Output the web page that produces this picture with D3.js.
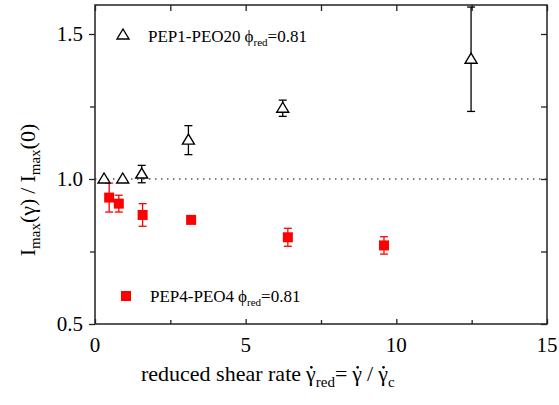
<!DOCTYPE html>
<html>
<head>
<meta charset="utf-8">
<script src="https://cdn.jsdelivr.net/npm/d3@7"></script>
</head>
<body style="margin:0; font-family: 'Times New Roman';">
<div id="chart"></div>
<script>
// PEP1-PEO20 (open triangles)
const triX   = [0.30, 0.92, 1.55, 3.10, 6.23, 12.48];
const triY   = [1.000, 1.000, 1.017, 1.134, 1.244, 1.413];
const triErr = [0, 0, 0.030, 0.050, 0.028, 0.180];

// PEP4-PEO4 (red squares)
const sqX   = [0.47, 0.79, 1.58, 3.19, 6.40, 9.59];
const sqY   = [0.936, 0.915, 0.876, 0.859, 0.799, 0.771];
const sqErr = [0.050, 0.029, 0.039, 0.008, 0.031, 0.030];

const xMajor = [0, 5, 10, 15];
const xMinor = [2.5, 7.5, 12.5];
const yMajor = [0.5, 1.0, 1.5];
const yMinor = [0.75, 1.25];

const width = 559, height = 405;
const margin = { left: 95, right: 12, top: 5, bottom: 81 };
const serif = 'Times New Roman';

const svg = d3.select('#chart').append('svg')
	.attr('width', width)
	.attr('height', height)
	.attr('font-family', serif);

const x = d3.scaleLinear().domain([0, 15]).range([margin.left, width - margin.right]);
const y = d3.scaleLinear().domain([0.5, 1.6]).range([height - margin.bottom, margin.top]);

const x0 = x.range()[0], x1 = x.range()[1];
const y0 = y.range()[0], y1 = y.range()[1];

// reference line at 1.0
svg.append('line')
	.attr('x1', x(0)).attr('x2', x(15))
	.attr('y1', y(1)).attr('y2', y(1))
	.attr('stroke', '#000')
	.attr('stroke-width', 1.2)
	.attr('stroke-dasharray', '1.5,4.5');

// axes (labels drawn separately as plain text)
function styleAxis(g)
{
	g.attr('font-family', serif);
	g.select('.domain').remove();
	g.selectAll('.tick line').attr('stroke', '#222').attr('stroke-width', 1.3);
	g.selectAll('.tick text').remove();
}

svg.append('g')
	.attr('transform', `translate(0,${y0})`)
	.call(d3.axisBottom(x).tickValues(xMajor).tickSizeInner(-5))
	.call(styleAxis);
svg.append('g')
	.attr('transform', `translate(0,${y0})`)
	.call(d3.axisBottom(x).tickValues(xMinor).tickSizeInner(-4))
	.call(styleAxis);
svg.append('g')
	.attr('transform', `translate(${x0},0)`)
	.call(d3.axisLeft(y).tickValues(yMajor).tickSizeInner(6))
	.call(styleAxis);
svg.append('g')
	.attr('transform', `translate(${x0},0)`)
	.call(d3.axisLeft(y).tickValues(yMinor).tickSizeInner(5))
	.call(styleAxis);
svg.append('g')
	.attr('transform', `translate(0,${y1})`)
	.call(d3.axisTop(x).tickValues(xMajor.concat(xMinor)).tickSizeInner(-6))
	.call(styleAxis);
svg.append('g')
	.attr('transform', `translate(${x1},0)`)
	.call(d3.axisRight(y).tickValues(yMajor.concat(yMinor)).tickSizeInner(-6))
	.call(styleAxis);

svg.selectAll('.xlab')
	.data(xMajor)
	.join('text')
		.attr('x', d => x(d))
		.attr('y', y0 + 28)
		.attr('text-anchor', 'middle')
		.attr('font-family', serif)
		.attr('font-size', 21)
		.text(d3.format('d'));

svg.selectAll('.ylab')
	.data(yMajor)
	.join('text')
		.attr('x', x0 - 12)
		.attr('y', d => y(d) + 7)
		.attr('text-anchor', 'end')
		.attr('font-family', serif)
		.attr('font-size', 21)
		.text(d3.format('.1f'));

// frame
svg.append('rect')
	.attr('x', x0).attr('y', y1)
	.attr('width', x1 - x0).attr('height', y0 - y1)
	.attr('fill', 'none')
	.attr('stroke', '#222')
	.attr('stroke-width', 1.5);

// error bars
function errorBars(xs, ys, es, color)
{
	const g = svg.append('g').attr('stroke', color).attr('stroke-width', 1.3);
	xs.forEach((xv, i) => {
		if (es[i] <= 0) return;
		const cx = x(xv), top = y(ys[i] + es[i]), bot = y(ys[i] - es[i]);
		g.append('line').attr('x1', cx).attr('x2', cx).attr('y1', top).attr('y2', bot);
		g.append('line').attr('x1', cx - 4).attr('x2', cx + 4).attr('y1', top).attr('y2', top);
		g.append('line').attr('x1', cx - 4).attr('x2', cx + 4).attr('y1', bot).attr('y2', bot);
	});
}

errorBars(sqX, sqY, sqErr, '#ff0000');
errorBars(triX, triY, triErr, '#000');

const triPath = 'M0,-6L6,4L-6,4Z';

svg.append('g').selectAll('rect')
	.data(sqX.map((d, i) => [d, sqY[i]]))
	.join('rect')
		.attr('x', d => x(d[0]) - 5)
		.attr('y', d => y(d[1]) - 5)
		.attr('width', 10).attr('height', 10)
		.attr('fill', '#ff0000');

svg.append('g').selectAll('path')
	.data(triX.map((d, i) => [d, triY[i]]))
	.join('path')
		.attr('d', triPath)
		.attr('transform', d => `translate(${x(d[0])},${y(d[1])})`)
		.attr('fill', '#fff')
		.attr('stroke', '#000')
		.attr('stroke-width', 1.4);

// write a line as separate text runs (subscripts, dotted gamma)
function writeRuns(parent, sx, sy, parts)
{
	let cx = sx;
	parts.forEach(p => {
		const t = parent.append('text')
			.attr('x', cx).attr('y', sy + (p.dy || 0))
			.attr('font-family', serif)
			.attr('font-size', p.size)
			.text(p.text);
		const w = t.node().getComputedTextLength();
		if (p.dot)
			parent.append('circle')
				.attr('cx', cx + w * 0.55).attr('cy', sy - p.size * 0.62)
				.attr('r', 1.3).attr('fill', '#000');
		cx += w + (p.gap || 0);
	});
	return cx - sx;
}

// legends
function legend(tx, ty, label)
{
	writeRuns(svg, tx, ty, [
		{ text: label, size: 17, gap: 4 },
		{ text: '\u03d5', size: 17 },
		{ text: 'red', size: 11, dy: 4 },
		{ text: '=0.81', size: 17 }
	]);
}

svg.append('path')
	.attr('d', triPath)
	.attr('transform', 'translate(123,35)')
	.attr('fill', '#fff').attr('stroke', '#000').attr('stroke-width', 1.4);
legend(148, 42, 'PEP1-PEO20');

svg.append('rect')
	.attr('x', 121).attr('y', 291).attr('width', 10).attr('height', 10)
	.attr('fill', '#ff0000');
legend(150, 302, 'PEP4-PEO4');

// axis titles
writeRuns(svg, 141, 381, [
	{ text: 'reduced shear rate', size: 22, gap: 5 },
	{ text: '\u03b3', size: 22, dot: true },
	{ text: 'red', size: 15, dy: 6 },
	{ text: '=', size: 22, gap: 5 },
	{ text: '\u03b3', size: 22, dot: true, gap: 5 },
	{ text: '/', size: 22, gap: 5 },
	{ text: '\u03b3', size: 22, dot: true },
	{ text: 'c', size: 15, dy: 6 }
]);

const yg = svg.append('g');
const yw = writeRuns(yg, 0, 0, [
	{ text: 'I', size: 22 },
	{ text: 'max', size: 15, dy: 5 },
	{ text: '(\u03b3)', size: 22, gap: 5 },
	{ text: '/', size: 22, gap: 5 },
	{ text: 'I', size: 22 },
	{ text: 'max', size: 15, dy: 5 },
	{ text: '(0)', size: 22 }
]);
yg.attr('transform', `translate(35,${190 + yw / 2}) rotate(-90)`);
</script>
</body>
</html>
